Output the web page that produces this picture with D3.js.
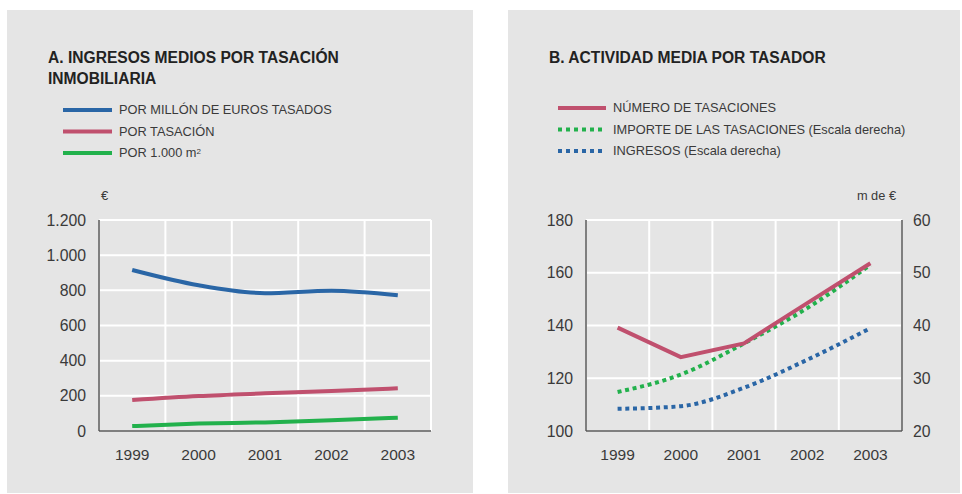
<!DOCTYPE html>
<html><head><meta charset="utf-8">
<script src="https://cdn.jsdelivr.net/npm/d3@7"></script>
<style>
html,body{margin:0;padding:0;background:#fff;}
text{font-family:"Liberation Sans",Arial,sans-serif;}
</style></head>
<body>
<svg id="c" width="962" height="494"></svg>
<script>
const years = ["1999","2000","2001","2002","2003"];
// Panel A
const porMillon = [916, 829, 784, 798, 772];
const porTasacion = [176, 199, 214, 227, 243];
const por1000m2 = [28, 42, 49, 61, 76];
const ticksA = [0, 200, 400, 600, 800, 1000, 1200];
const tickLabelsA = ["0","200","400","600","800","1.000","1.200"];
// Panel B
const numTasaciones = [139.2, 128, 133.2, 148.5, 163.6];
const importeTasaciones = [27.4, 30.7, 36.6, 43.3, 51.5];
const ingresos = [24.2, 24.7, 28.2, 33.5, 39.5];
const ticksBLeft = [100, 120, 140, 160, 180];
const ticksBRight = [20, 30, 40, 50, 60];

const BLUE = "#2a66a6", RED = "#c0506e", GREEN = "#22b14c";
const BG = "#e5e5e5", AXIS = "#555", TXT = "#3a3a3a";

const svg = d3.select("#c");
svg.append("rect").attr("x",7).attr("y",10).attr("width",466).attr("height",483).attr("fill",BG);
svg.append("rect").attr("x",508).attr("y",10).attr("width",452).attr("height",483).attr("fill",BG);

function grid(g, x, y, ticks, x0, x1) {
  ticks.forEach(t => {
    g.append("line").attr("x1",x0).attr("x2",x1).attr("y1",y(t)).attr("y2",y(t))
      .attr("stroke","#fff").attr("stroke-width",2);
  });
  const bounds = x.domain().map(d => x(d)).concat([x1]);
  bounds.forEach(b => {
    g.append("line").attr("x1",b).attr("x2",b).attr("y1",y.range()[1]).attr("y2",y.range()[0])
      .attr("stroke","#fff").attr("stroke-width",2);
  });
}

// ---------- Panel A ----------
{
  const g = svg.append("g");
  const x0 = 99, x1 = 431, yTop = 220, yBot = 431;
  const x = d3.scaleBand().domain(years).range([x0, x1]);
  const y = d3.scaleLinear().domain([0, 1200]).range([yBot, yTop]);
  grid(g, x, y, ticksA, x0, x1);
  g.append("line").attr("x1",x0).attr("x2",x0).attr("y1",yTop).attr("y2",yBot).attr("stroke",AXIS).attr("stroke-width",1.5);
  g.append("line").attr("x1",x0).attr("x2",x1).attr("y1",yBot).attr("y2",yBot).attr("stroke",AXIS).attr("stroke-width",1.5);
  ticksA.forEach((t,i) => g.append("text").attr("x",86).attr("y",y(t)).attr("dy","0.35em")
    .attr("text-anchor","end").attr("font-size",15.8).attr("fill",TXT).text(tickLabelsA[i]));
  years.forEach(yr => g.append("text").attr("x",x(yr)+x.bandwidth()/2).attr("y",455).attr("dy","0.35em")
    .attr("text-anchor","middle").attr("font-size",15.5).attr("fill",TXT).text(yr));
  g.append("text").attr("x",101).attr("y",200).attr("font-size",13).attr("fill",TXT).text("€");
  const line = d3.line().x((d,i)=>x(years[i])+x.bandwidth()/2).y(d=>y(d)).curve(d3.curveMonotoneX);
  [[porMillon,BLUE],[porTasacion,RED],[por1000m2,GREEN]].forEach(([s,c]) =>
    g.append("path").attr("d",line(s)).attr("fill","none").attr("stroke",c).attr("stroke-width",4));
  g.append("text").attr("x",48).attr("y",63).attr("font-size",15.6).attr("font-weight","bold").attr("fill","#222").text("A. INGRESOS MEDIOS POR TASACIÓN");
  g.append("text").attr("x",48).attr("y",84).attr("font-size",15.6).attr("font-weight","bold").attr("fill","#222").text("INMOBILIARIA");
  const leg = [["POR MILLÓN DE EUROS TASADOS",BLUE],["POR TASACIÓN",RED],["POR 1.000 m",GREEN]];
  leg.forEach(([t,c],i) => {
    const yy = 110 + i*21.5;
    g.append("line").attr("x1",63).attr("x2",112).attr("y1",yy).attr("y2",yy).attr("stroke",c).attr("stroke-width",4);
    const tx = g.append("text").attr("x",119).attr("y",yy).attr("dy","0.35em").attr("font-size",12.8).attr("fill",TXT).text(t);
    if (i===2) tx.append("tspan").attr("dy","-0.4em").attr("font-size",8).text("2");
  });
}

// ---------- Panel B ----------
{
  const g = svg.append("g");
  const x0 = 586, x1 = 902, yTop = 220, yBot = 431;
  const x = d3.scaleBand().domain(years).range([x0, x1]);
  const yL = d3.scaleLinear().domain([100, 180]).range([yBot, yTop]);
  const yR = d3.scaleLinear().domain([20, 60]).range([yBot, yTop]);
  grid(g, x, yL, ticksBLeft, x0, x1);
  g.append("line").attr("x1",x0).attr("x2",x0).attr("y1",yTop).attr("y2",yBot).attr("stroke",AXIS).attr("stroke-width",1.5);
  g.append("line").attr("x1",x1).attr("x2",x1).attr("y1",yTop).attr("y2",yBot).attr("stroke",AXIS).attr("stroke-width",1.5);
  g.append("line").attr("x1",x0).attr("x2",x1).attr("y1",yBot).attr("y2",yBot).attr("stroke",AXIS).attr("stroke-width",1.5);
  ticksBLeft.forEach(t => g.append("text").attr("x",573).attr("y",yL(t)).attr("dy","0.35em")
    .attr("text-anchor","end").attr("font-size",15.8).attr("fill",TXT).text(t));
  ticksBRight.forEach(t => g.append("text").attr("x",913).attr("y",yR(t)).attr("dy","0.35em")
    .attr("text-anchor","start").attr("font-size",15.8).attr("fill",TXT).text(t));
  years.forEach(yr => g.append("text").attr("x",x(yr)+x.bandwidth()/2).attr("y",455).attr("dy","0.35em")
    .attr("text-anchor","middle").attr("font-size",15.5).attr("fill",TXT).text(yr));
  g.append("text").attr("x",896).attr("y",200).attr("text-anchor","end").attr("font-size",12.8).attr("fill",TXT).text("m de €");
  const cx = (d,i)=>x(years[i])+x.bandwidth()/2;
  const lineL = d3.line().x(cx).y(d=>yL(d));
  const lineR = d3.line().x(cx).y(d=>yR(d)).curve(d3.curveMonotoneX);
  g.append("path").attr("d",lineR(importeTasaciones)).attr("fill","none").attr("stroke",GREEN).attr("stroke-width",4).attr("stroke-dasharray","4,3.7");
  g.append("path").attr("d",lineR(ingresos)).attr("fill","none").attr("stroke",BLUE).attr("stroke-width",4).attr("stroke-dasharray","4,3.7");
  g.append("path").attr("d",lineL(numTasaciones)).attr("fill","none").attr("stroke",RED).attr("stroke-width",4);
  g.append("text").attr("x",549).attr("y",63).attr("font-size",15.6).attr("font-weight","bold").attr("fill","#222").text("B. ACTIVIDAD MEDIA POR TASADOR");
  const leg = [["NÚMERO DE TASACIONES",RED,null],["IMPORTE DE LAS TASACIONES (Escala derecha)",GREEN,"4,4"],["INGRESOS (Escala derecha)",BLUE,"4,4"]];
  leg.forEach(([t,c,da],i) => {
    const yy = 108 + i*21.5;
    const l = g.append("line").attr("x1",558).attr("x2",606).attr("y1",yy).attr("y2",yy).attr("stroke",c).attr("stroke-width",4);
    if (da) l.attr("stroke-dasharray",da);
    g.append("text").attr("x",613).attr("y",yy).attr("dy","0.35em").attr("font-size",12.8).attr("fill",TXT).text(t);
  });
}
</script>
</body></html>
